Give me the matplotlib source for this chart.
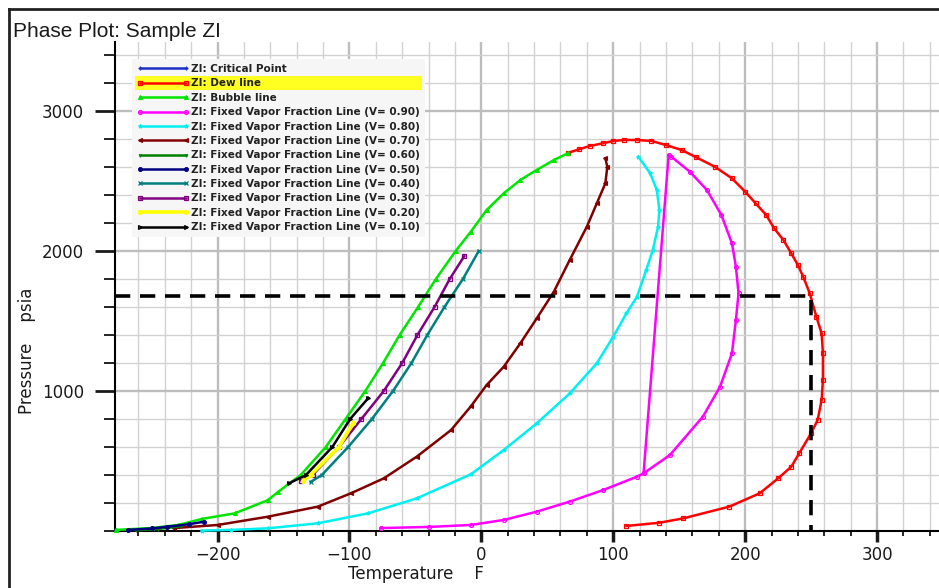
import matplotlib
matplotlib.use("Agg")
import matplotlib.pyplot as plt
from matplotlib.patches import Rectangle
from matplotlib.lines import Line2D
from matplotlib.transforms import IdentityTransform
from matplotlib.ticker import MultipleLocator

plt.rcParams['font.family'] = ['DejaVu Sans']
plt.rcParams['lines.scale_dashes'] = False

# Phase envelope of sample ZI (temperature in F, pressure in psia)
crit_t = [-277]
crit_p = [5]

dew_t = [110, 135, 153, 188, 211, 225, 235, 241, 250, 255, 258, 259, 259, 258, 254, 249,
         244, 240, 235, 229, 222, 216, 208, 200, 190, 177, 163, 152, 140, 129, 118, 108,
         100, 92, 82, 74, 66]
dew_p = [36, 59, 90, 174, 269, 376, 459, 555, 698, 793, 936, 1079, 1269, 1412, 1531, 1698,
         1817, 1900, 1983, 2079, 2162, 2257, 2340, 2424, 2519, 2602, 2669, 2721, 2757, 2786,
         2793, 2793, 2786, 2769, 2750, 2726, 2702]

bubble_t = [-277, -250, -230, -212, -187, -162, -154, -137, -118, -103, -88, -74.5, -62,
            -48, -34.5, -19.5, -8, 4, 17, 29.5, 42, 55, 66]
bubble_p = [8, 21, 43, 86, 126, 220, 280, 400, 600, 800, 1000, 1200, 1400, 1600, 1800,
            2000, 2138, 2293, 2412, 2507, 2579, 2650, 2700]

# fixed vapor fraction lines
vf90_t = [-76, -40, -8, 17, 42, 67, 92.5, 118, 123, 143, 168, 181, 190, 193, 195, 193, 190,
          182, 171, 158, 144, 142, 123]
vf90_p = [21, 29, 43, 79, 138, 210, 293, 388, 412, 543, 817, 1031, 1269, 1507, 1698, 1888,
          2055, 2257, 2436, 2567, 2674, 2686, 412]

vf80_t = [-212, -190, -162, -124, -86, -49, -8, 17, 42, 67, 87.5, 100, 110, 118, 125, 130,
          134, 135, 133, 128, 119]
vf80_p = [3, 8, 19, 55, 126, 233, 405, 579, 769, 983, 1198, 1388, 1555, 1674, 1864, 2007,
          2174, 2293, 2436, 2555, 2674]

vf70_t = [-233, -200, -162, -124, -99, -74, -49, -23, -8, 4, 17, 29.5, 42, 55, 67, 80, 87.5,
          94, 95.5, 94]
vf70_p = [21, 43, 102, 174, 269, 376, 531, 721, 890, 1043, 1174, 1340, 1519, 1710, 1936, 2174,
          2340, 2483, 2602, 2662]

vf60_t = [-262, -245, -228]
vf60_p = [5, 15, 33]

vf50_t = [-268, -250, -238, -222, -210.4]
vf50_p = [8, 18, 31, 48, 66]

vf40_t = [-129.5, -121, -101, -83, -67, -53, -41, -28, -14, -2]
vf40_p = [350, 400, 600, 800, 1000, 1200, 1400, 1600, 1800, 2000]

vf30_t = [-136.5, -128, -108, -91, -74, -60, -48.5, -35.5, -24, -13]
vf30_p = [360, 400, 600, 800, 1000, 1200, 1400, 1600, 1800, 1963]

vf20_t = [-135, -129.5, -108, -97]
vf20_p = [360, 400, 600, 775]

vf10_t = [-146, -133, -113, -99.5, -85.7]
vf10_p = [340, 400, 600, 800, 950]

# operating point marked by the dashed guide
op_t = 250
op_p = 1680

fig = plt.figure(figsize=(9.39, 5.88), dpi=100)
ax = fig.add_axes([115 / 939, 1 - 531 / 588, 1 - 115 / 939, (531 - 42) / 588])

xmin, xmax = -277.8, 347
ymin, ymax = 0, 3493

series = [
    (crit_t, crit_p, '#1c2fc4', '+', 'full', 'ZI: Critical Point'),
    (dew_t, dew_p, '#ff0000', 's', 'none', 'ZI: Dew line'),
    (bubble_t, bubble_p, '#00e600', '^', 'full', 'ZI: Bubble line'),
    (vf90_t, vf90_p, '#ff00ff', 'o', 'none', 'ZI: Fixed Vapor Fraction Line (V= 0.90)'),
    (vf80_t, vf80_p, '#00f0f0', '*', 'full', 'ZI: Fixed Vapor Fraction Line (V= 0.80)'),
    (vf70_t, vf70_p, '#800000', '<', 'full', 'ZI: Fixed Vapor Fraction Line (V= 0.70)'),
    (vf60_t, vf60_p, '#008000', '1', 'full', 'ZI: Fixed Vapor Fraction Line (V= 0.60)'),
    (vf50_t, vf50_p, '#000080', '8', 'full', 'ZI: Fixed Vapor Fraction Line (V= 0.50)'),
    (vf40_t, vf40_p, '#008080', 'x', 'full', 'ZI: Fixed Vapor Fraction Line (V= 0.40)'),
    (vf30_t, vf30_p, '#800080', 's', 'none', 'ZI: Fixed Vapor Fraction Line (V= 0.30)'),
    (vf20_t, vf20_p, '#ffff00', 'o', 'full', 'ZI: Fixed Vapor Fraction Line (V= 0.20)'),
    (vf10_t, vf10_p, '#000000', '>', 'none', 'ZI: Fixed Vapor Fraction Line (V= 0.10)'),
]

handles = []
for t, p, col, mk, fill, lab in series:
    lw = 2.6 if col == '#ffff00' else 1.8
    line, = ax.plot(t, p, color=col, lw=lw, marker=mk, ms=2.8, mew=0.9,
                    fillstyle=fill, label=lab, zorder=3, clip_on=False)
    handles.append(line)

# dashed guide to the operating point
ax.plot([xmin, op_t, op_t], [op_p, op_p, ymin], color='black', lw=2.6,
        dashes=(11, 7), zorder=3.5)

ax.set_xlim(xmin, xmax)
ax.set_ylim(ymin, ymax)

ax.xaxis.set_major_locator(MultipleLocator(100))
ax.xaxis.set_minor_locator(MultipleLocator(20))
ax.yaxis.set_major_locator(MultipleLocator(1000))
ax.yaxis.set_minor_locator(MultipleLocator(200))
ax.set_yticks([1000, 2000, 3000])

ax.set_axisbelow(True)
ax.grid(which='major', color='#bdbdbd', lw=1.7)
ax.grid(which='minor', color='#d2d2d2', lw=1.0)

for s in ['top', 'right']:
    ax.spines[s].set_visible(False)
for s in ['left', 'bottom']:
    ax.spines[s].set_linewidth(1.5)

ax.tick_params(axis='y', which='major', length=14.5, width=2, pad=8, labelsize=12,
               colors='#1a1a1a')
ax.tick_params(axis='y', which='minor', length=8, width=1.2)
ax.tick_params(axis='x', which='major', length=8, width=2.5, pad=3, labelsize=12,
               colors='#1a1a1a')
ax.tick_params(axis='x', which='minor', length=3.5, width=1.2)
ax.xaxis.set_major_formatter(plt.FuncFormatter(lambda v, _: f'{int(v)}'.replace('-', '\u2212')))

leg = ax.legend(handles=handles, loc='upper left', bbox_to_anchor=(20 / 824, 1 - 20 / 489),
                frameon=False, prop={'weight': 'bold', 'size': 7.5},
                numpoints=2, handlelength=5.0, handletextpad=0.15, labelspacing=0.42,
                borderaxespad=0, borderpad=0.2)
leg.set_zorder(6)
for txt in leg.get_texts():
    txt.set_color('#222222')

# legend background and the highlighted row
fig.canvas.draw()
bb = leg.get_window_extent()
tb = leg.get_texts()[1].get_window_extent()
pad = 3
ax.add_artist(Rectangle((bb.x0 - pad, bb.y0 - pad), bb.width + 2 * pad, bb.height + 2 * pad,
                        transform=IdentityTransform(), facecolor='#f6f6f6', edgecolor='none',
                        zorder=4))
ax.add_artist(Rectangle((bb.x0, tb.y0 - 2), bb.width, tb.height + 4,
                        transform=IdentityTransform(), facecolor='#ffff22', edgecolor='none',
                        zorder=4.5))

# outer frame and captions
fig.add_artist(Line2D([9 / 939, 1], [1 - 9 / 588, 1 - 9 / 588], color='#222222', lw=2))
fig.add_artist(Line2D([9 / 939, 9 / 939], [0, 1 - 9 / 588], color='#222222', lw=2))
fig.text(13 / 939, 1 - 37 / 588, 'Phase Plot: Sample ZI', fontsize=15,
         family='Liberation Sans', color='#1a1a1a', va='baseline')
fig.text(348 / 939, 1 - 579 / 588, 'Temperature    F', fontsize=12, color='#1a1a1a',
         va='baseline')
fig.text(27 / 939, 1 - 351 / 588, 'Pressure    psia', fontsize=12, color='#1a1a1a',
         rotation=90, ha='center', va='center')

fig.savefig('out.png', dpi=100)
